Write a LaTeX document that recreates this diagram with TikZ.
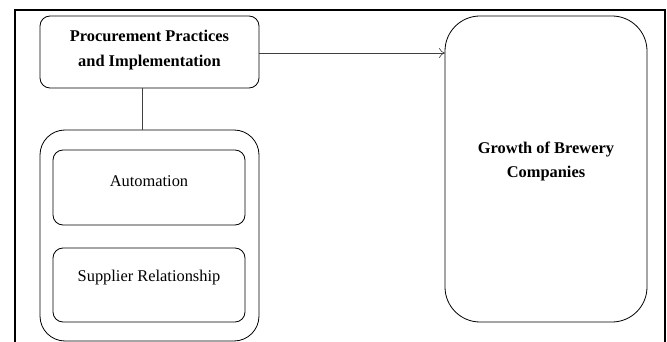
\documentclass[tikz,border=0pt]{standalone}
\usepackage{fontspec}
\setmainfont{Liberation Serif}
\usetikzlibrary{arrows.meta}
\begin{document}
\begin{tikzpicture}[x=1pt,y=-1pt,
  box/.style={draw,line width=0.8pt,rounded corners=#1},
  lbl/.style={align=center,font=\fontsize{16.4}{24}\selectfont},
  conn/.style={draw,line width=0.6pt,draw=black!75}]
\useasboundingbox (0,0) rectangle (667,342);
\draw[line width=2pt] (15,342) -- (15,10) -- (665,10) -- (665,342);
% top box
\draw[box=10pt] (40,16) rectangle (259,88);
\node[lbl,font=\fontsize{16.4}{25}\selectfont\bfseries] (proc) at (149.5,50) {Procurement Practices\\and Implementation};
\coordinate (procR) at (259,53);
\coordinate (procB) at (142,88);
% outer container
\draw[box=25pt] (40,130) rectangle (259,341);
\coordinate (contT) at (142,130);
\draw[box=10pt] (53,150) rectangle (245,225);
\node[lbl] (auto) at (149,181) {Automation};
\draw[box=10pt] (53,248) rectangle (245,322);
\node[lbl] (supp) at (149,278) {Supplier Relationship};
% right box
\draw[box=35pt] (445,16) rectangle (647,322);
\coordinate (growL) at (445,53);
\node[lbl,font=\fontsize{16.4}{24}\selectfont\bfseries] (grow) at (546,161) {Growth of Brewery\\Companies};
\draw[conn] (procB) -- (contT);
\draw[conn,->,>={To[length=6pt,width=10pt]}] (procR) -- (growL);
\end{tikzpicture}
\end{document}
